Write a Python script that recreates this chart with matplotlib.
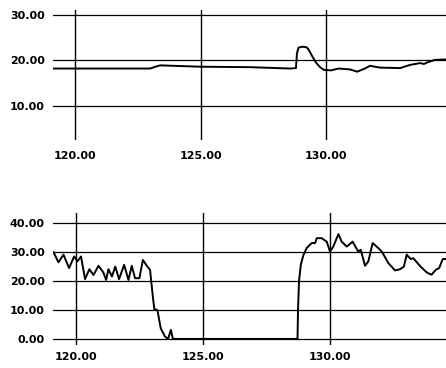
import matplotlib.pyplot as plt

# top trace
top_x = [119.12, 122.99, 123.20, 123.39, 124.98, 126.97, 128.57, 128.80, 128.84, 128.90,
         129.05, 129.22, 129.30, 129.44, 129.60, 129.76, 129.92, 130.20, 130.50, 130.96,
         131.24, 131.55, 131.75, 132.15, 132.95, 133.35, 133.75, 133.90, 134.06, 134.34,
         134.78]
top_y = [18.2, 18.2, 18.6, 18.9, 18.6, 18.5, 18.2, 18.3, 21.5, 22.8,
         23.0, 22.9, 22.4, 21.0, 19.5, 18.5, 17.9, 17.8, 18.2, 18.0,
         17.5, 18.2, 18.8, 18.4, 18.3, 19.0, 19.4, 19.2, 19.6, 20.1,
         20.2]

# bottom trace
bot_x = [119.11, 119.30, 119.50, 119.72, 119.92, 120.05, 120.19, 120.35, 120.52, 120.68,
         120.88, 121.07, 121.18, 121.27, 121.41, 121.54, 121.69, 121.89, 122.06, 122.19,
         122.32, 122.49, 122.63, 122.78, 122.91, 123.02, 123.08, 123.20, 123.33, 123.50,
         123.62, 123.73, 123.81, 128.72, 128.74, 128.78, 128.85, 128.95, 129.08, 129.28,
         129.41, 129.48, 129.67, 129.87, 130.00, 130.13, 130.33, 130.46, 130.66, 130.89,
         131.11, 131.21, 131.38, 131.51, 131.68, 131.84, 132.04, 132.30, 132.56, 132.76,
         132.91, 133.02, 133.18, 133.28, 133.57, 133.81, 134.00, 134.17, 134.30, 134.44,
         134.57]
bot_y = [29.8, 26.4, 29.0, 24.4, 28.4, 26.7, 28.4, 20.6, 24.0, 22.0,
         25.2, 22.9, 20.3, 24.0, 21.5, 24.9, 20.6, 25.5, 20.3, 25.2,
         20.9, 20.9, 27.2, 25.2, 23.8, 14.6, 10.2, 10.0, 3.7, 0.8,
         0.0, 3.1, 0.0, 0.0, 10.0, 20.0, 25.5, 28.8, 31.3, 33.0,
         33.0, 34.7, 34.7, 33.5, 30.1, 31.8, 36.1, 33.5, 31.8, 33.5,
         30.1, 30.7, 25.2, 26.7, 33.0, 31.8, 30.1, 26.1, 23.6, 24.0,
         24.9, 29.0, 27.5, 27.8, 24.9, 22.9, 22.1, 23.8, 24.4, 27.5,
         27.5]

x_ticks = [120, 125, 130]
top_ticks = [10, 20, 30]
bot_ticks = [0, 10, 20, 30, 40]

fig = plt.figure(figsize=(4.46, 3.68), dpi=100, facecolor='white')
ax1 = fig.add_axes([0.119, 0.620, 0.881, 0.353])
ax2 = fig.add_axes([0.119, 0.0625, 0.881, 0.359])

def style(ax, xs, ys, yticks, xlim, ylim, xpad):
    for s in ax.spines.values():
        s.set_visible(False)
    ax.plot(xs, ys, color='black', lw=1.4, zorder=3)
    for t in yticks:
        ax.axhline(t, color='black', lw=0.9, zorder=2)
    for t in x_ticks:
        ax.axvline(t, color='black', lw=1.0, zorder=2)
    ax.set_xlim(*xlim)
    ax.set_ylim(*ylim)
    ax.set_xticks(x_ticks)
    ax.set_xticklabels([f'{t:.2f}' for t in x_ticks])
    ax.set_yticks(yticks)
    ax.set_yticklabels([f'{t:.2f}' for t in yticks])
    ax.tick_params(axis='both', length=0, labelsize=8)
    ax.tick_params(axis='y', pad=6)
    ax.tick_params(axis='x', pad=xpad)
    for lab in ax.get_xticklabels() + ax.get_yticklabels():
        lab.set_fontweight('bold')

style(ax1, top_x, top_y, top_ticks, (119.12, 134.78), (2.5, 31.1), 8)
style(ax2, bot_x, bot_y, bot_ticks, (119.09, 134.57), (-2.1, 43.4), 5)

fig.savefig('out.png', dpi=100)
